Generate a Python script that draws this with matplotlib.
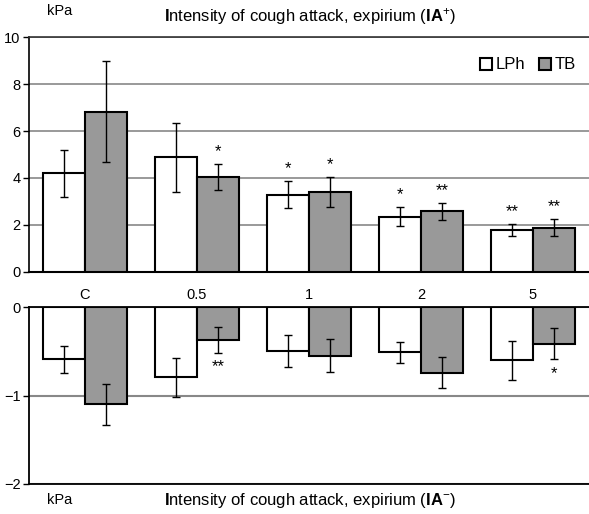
import numpy as np
import matplotlib.pyplot as plt

plt.rcParams['font.family'] = ['Liberation Sans', 'DejaVu Sans']
plt.rcParams['mathtext.fontset'] = 'custom'
plt.rcParams['mathtext.rm'] = 'Liberation Sans'
plt.rcParams['mathtext.it'] = 'Liberation Sans:italic'
plt.rcParams['mathtext.bf'] = 'Liberation Sans:bold'

# Data
cats = ['C', '0.5', '1', '2', '5']

# expirium IA+ (kPa)
lph_up = [4.20, 4.88, 3.29, 2.34, 1.78]
lph_up_sd = [1.01, 1.47, 0.57, 0.40, 0.25]
tb_up = [6.82, 4.05, 3.40, 2.57, 1.88]
tb_up_sd = [2.16, 0.55, 0.62, 0.37, 0.35]
lph_up_sig = ['', '', '*', '*', '**']
tb_up_sig = ['', '*', '*', '**', '**']

# expirium IA- (kPa)
lph_dn = [-0.59, -0.79, -0.49, -0.51, -0.60]
lph_dn_sd = [0.155, 0.22, 0.18, 0.12, 0.22]
tb_dn = [-1.10, -0.37, -0.55, -0.74, -0.41]
tb_dn_sd = [0.227, 0.145, 0.187, 0.173, 0.18]
lph_dn_sig = ['', '', '', '', '']
tb_dn_sig = ['', '**', '', '', '*']

x = np.arange(len(cats))
w = 0.375
grey = '#999999'
gridc = '#888888'

fig = plt.figure(figsize=(5.89, 5.14), dpi=100)
ax1 = fig.add_axes([0.0492, 0.4714, 0.9508, 0.456])
ax2 = fig.add_axes([0.0492, 0.0584, 0.9508, 0.3437])

err_kw = dict(ecolor='black', elinewidth=1.0, capsize=3, capthick=1.0)

# upper panel
ax1.bar(x - w/2, lph_up, w, yerr=lph_up_sd, color='white', edgecolor='black',
        linewidth=1.5, error_kw=err_kw, label='LPh', zorder=3)
ax1.bar(x + w/2, tb_up, w, yerr=tb_up_sd, color=grey, edgecolor='black',
        linewidth=1.5, error_kw=err_kw, label='TB', zorder=3)
for i in range(len(cats)):
    for xx, v, sd, s in [(x[i] - w/2, lph_up[i], lph_up_sd[i], lph_up_sig[i]),
                         (x[i] + w/2, tb_up[i], tb_up_sd[i], tb_up_sig[i])]:
        if s:
            ax1.annotate(s, (xx, v + sd), xytext=(0, 9), textcoords='offset points',
                         ha='center', va='center', fontsize=12)
ax1.set_xlim(-0.5, 4.5)
ax1.set_ylim(0, 10)
ax1.set_yticks([0, 2, 4, 6, 8, 10])
ax1.set_xticks(x)
ax1.set_xticklabels(cats, fontsize=10.5)
ax1.tick_params(axis='x', length=0, pad=12)
ax1.tick_params(axis='y', length=4, width=1, labelsize=10.5, pad=2)
ax1.yaxis.grid(True, color=gridc, linewidth=1.2, zorder=0)
ax1.set_axisbelow(True)
ax1.spines['right'].set_visible(False)
ax1.spines['top'].set_color('#333333')
ax1.spines['top'].set_linewidth(1.2)
ax1.spines['left'].set_linewidth(1.2)
ax1.spines['bottom'].set_linewidth(1.5)
ax1.text(4.53, -0.8, 'h', ha='left', va='center', fontsize=10.5, clip_on=False)
ax1.legend(loc='center right', bbox_to_anchor=(0.977, 0.882), ncol=2, frameon=False,
           fontsize=12, handlelength=0.72, handleheight=0.72, handletextpad=0.25,
           columnspacing=0.8, borderaxespad=0, borderpad=0)

# lower panel
ax2.bar(x - w/2, lph_dn, w, yerr=lph_dn_sd, color='white', edgecolor='black',
        linewidth=1.5, error_kw=err_kw, zorder=3)
ax2.bar(x + w/2, tb_dn, w, yerr=tb_dn_sd, color=grey, edgecolor='black',
        linewidth=1.5, error_kw=err_kw, zorder=3)
for i in range(len(cats)):
    for xx, v, sd, s in [(x[i] - w/2, lph_dn[i], lph_dn_sd[i], lph_dn_sig[i]),
                         (x[i] + w/2, tb_dn[i], tb_dn_sd[i], tb_dn_sig[i])]:
        if s:
            ax2.annotate(s, (xx, v - sd), xytext=(0, -10), textcoords='offset points',
                         ha='center', va='center', fontsize=12)
ax2.set_xlim(-0.5, 4.5)
ax2.set_ylim(-2, 0)
ax2.set_yticks([-2, -1, 0])
ax2.set_xticks([])
ax2.tick_params(axis='y', length=4, width=1, labelsize=10.5, pad=2)
ax2.yaxis.grid(True, color=gridc, linewidth=1.5, zorder=0)
ax2.set_axisbelow(True)
ax2.spines['right'].set_visible(False)
for sp in ['top', 'bottom', 'left']:
    ax2.spines[sp].set_linewidth(1.3)

# titles and units
fig.text(0.102, 0.978, 'kPa', ha='center', va='center', fontsize=10.5)
fig.text(0.102, 0.027, 'kPa', ha='center', va='center', fontsize=10.5)
fig.text(0.526, 0.967, r'$\mathbf{I}$ntensity of cough attack, expirium ($\mathbf{IA}^{+}$)',
         ha='center', va='center', fontsize=12)
fig.text(0.526, 0.027, r'$\mathbf{I}$ntensity of cough attack, expirium ($\mathbf{IA}^{-}$)',
         ha='center', va='center', fontsize=12)

fig.savefig('out.png', dpi=100)
